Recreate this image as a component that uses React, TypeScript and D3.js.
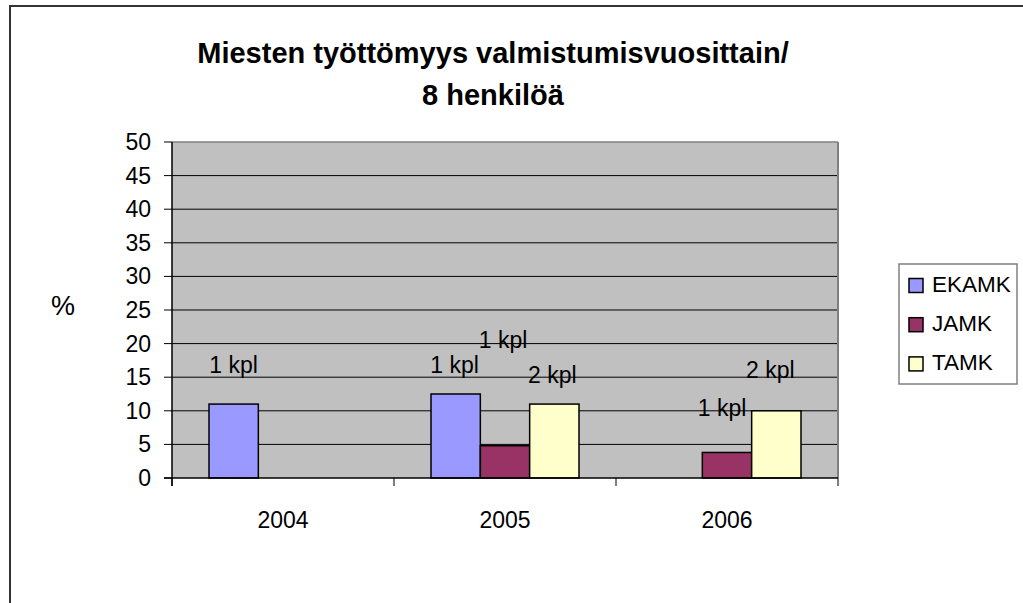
import React from "react";
import * as d3 from "d3";

const categories = ["2004", "2005", "2006"];
const seriesNames = ["EKAMK", "JAMK", "TAMK"];
const seriesColors = ["#9999FF", "#993366", "#FFFFCC"];
const ekamk = [11, 12.5, 0];
const jamk = [0, 4.8, 3.8];
const tamk = [0, 11, 10];
const yTicks = [0, 5, 10, 15, 20, 25, 30, 35, 40, 45, 50];
const titleLines = ["Miesten työttömyys valmistumisvuosittain/", "8 henkilöä"];
// data labels: category, series index, text, level (in % units) where the label sits
const labelCats = ["2004", "2005", "2005", "2005", "2006", "2006"];
const labelSeries = [0, 0, 1, 2, 1, 2];
const labelTexts = ["1 kpl", "1 kpl", "1 kpl", "2 kpl", "1 kpl", "2 kpl"];
const labelLevels = [15.6, 15.6, 19.3, 14.1, 9.2, 14.9];
const labelShift = [0, -1, -2, -2, -5, -6];

const W = 1023;
const H = 603;
const plot = { left: 172, right: 838, top: 142, bottom: 478 };
const FONT = "'Liberation Sans', Arial, sans-serif";

export default function App() {
  const values = [ekamk, jamk, tamk];
  const x0 = d3.scaleBand<string>().domain(categories).range([plot.left, plot.right]).paddingInner(0).paddingOuter(0);
  const groupW = x0.bandwidth() * (3 / 4.5);
  const x1 = d3
    .scaleBand<number>()
    .domain([0, 1, 2])
    .range([(x0.bandwidth() - groupW) / 2, (x0.bandwidth() + groupW) / 2])
    .padding(0);
  const y = d3.scaleLinear().domain([0, 50]).range([plot.bottom, plot.top]);

  const boundaries = [plot.left, ...categories.map((c) => (x0(c) as number) + x0.bandwidth())];

  return (
    <svg width={W} height={H} style={{ position: "absolute", left: 0, top: 0, background: "#fff" }} fontFamily={FONT}>
      <rect x={10} y={6} width={1040} height={640} fill="#fff" stroke="#333" strokeWidth={2} />
      {titleLines.map((t, i) => (
        <text key={t} x={493} y={63 + i * 42} textAnchor="middle" fontWeight="bold" fontSize={29} fill="#000">
          {t}
        </text>
      ))}
      <rect x={plot.left} y={plot.top} width={plot.right - plot.left} height={plot.bottom - plot.top} fill="#C0C0C0" />
      {yTicks.map((t) => (
        <g key={t}>
          {t > 0 && t < 50 && <line x1={plot.left} x2={plot.right} y1={y(t)} y2={y(t)} stroke="#000" strokeWidth={1} />}
          <line x1={plot.left - 8} x2={plot.left} y1={y(t)} y2={y(t)} stroke="#000" strokeWidth={1} />
          <text x={151} y={y(t) + 8} textAnchor="end" fontSize={23} fill="#000">
            {t}
          </text>
        </g>
      ))}
      <line x1={plot.left} x2={plot.right} y1={plot.top} y2={plot.top} stroke="#808080" strokeWidth={1.5} />
      <line x1={plot.right} x2={plot.right} y1={plot.top} y2={plot.bottom} stroke="#808080" strokeWidth={2} />
      {categories.map((c, ci) =>
        values.map((vals, si) =>
          vals[ci] > 0 ? (
            <rect
              key={c + si}
              x={(x0(c) as number) + (x1(si) as number)}
              y={y(vals[ci])}
              width={x1.bandwidth()}
              height={y(0) - y(vals[ci])}
              fill={seriesColors[si]}
              stroke="#000"
              strokeWidth={1.5}
            />
          ) : null
        )
      )}
      <line x1={plot.left} x2={plot.left} y1={plot.top} y2={plot.bottom + 8} stroke="#000" strokeWidth={1.5} />
      <line x1={plot.left - 8} x2={plot.right} y1={plot.bottom} y2={plot.bottom} stroke="#000" strokeWidth={1.5} />
      {boundaries.map((b) => (
        <line key={b} x1={b} x2={b} y1={plot.bottom} y2={plot.bottom + 8} stroke="#000" strokeWidth={1} />
      ))}
      {categories.map((c) => (
        <text key={c} x={(x0(c) as number) + x0.bandwidth() / 2} y={528} textAnchor="middle" fontSize={23} fill="#000">
          {c}
        </text>
      ))}
      {labelTexts.map((t, i) => (
        <text
          key={i}
          x={(x0(labelCats[i]) as number) + (x1(labelSeries[i]) as number) + x1.bandwidth() / 2 + labelShift[i]}
          y={y(labelLevels[i])}
          textAnchor="middle"
          fontSize={23}
          fill="#000"
        >
          {t}
        </text>
      ))}
      <text x={51} y={315} fontSize={27} fill="#000">
        %
      </text>
      <rect x={899} y={264} width={118} height={120} fill="#fff" stroke="#808080" strokeWidth={1.5} />
      {seriesNames.map((s, i) => (
        <g key={s}>
          <rect x={909} y={278.5 + i * 39.2} width={14} height={14} fill={seriesColors[i]} stroke="#000" strokeWidth={1.5} />
          <text x={932} y={292 + i * 39.2} fontSize={22.5} fill="#000">
            {s}
          </text>
        </g>
      ))}
    </svg>
  );
}
